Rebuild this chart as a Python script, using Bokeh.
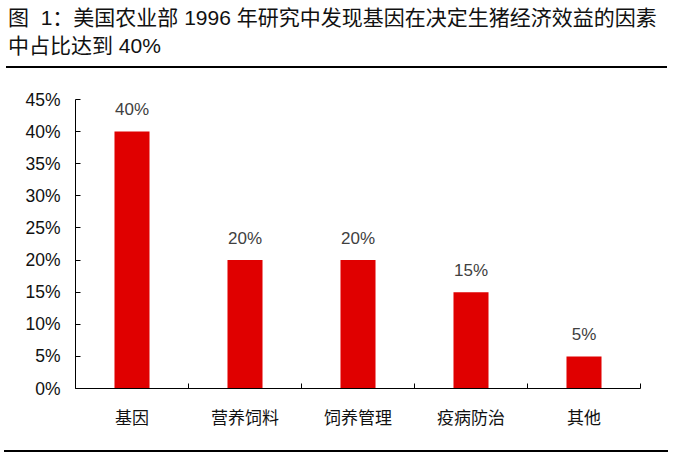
from bokeh.plotting import figure
from bokeh.models import (Range1d, FixedTicker, NumeralTickFormatter, Div, ColumnDataSource)
from bokeh.layouts import column
from bokeh.embed import file_html
from bokeh.resources import INLINE
from bokeh.core.properties import value

title_line1 = "图&nbsp;&nbsp;1：美国农业部 1996 年研究中发现基因在决定生猪经济效益的因素"
title_line2 = "中占比达到 40%"
categories = ["基因", "营养饲料", "饲养管理", "疫病防治", "其他"]
shares = [0.40, 0.20, 0.20, 0.15, 0.05]
y_ticks = [0.0, 0.05, 0.10, 0.15, 0.20, 0.25, 0.30, 0.35, 0.40, 0.45]

FONT = "'Liberation Sans', 'Noto Sans CJK SC', sans-serif"
RED = "#E00000"

xs = [i + 0.5 for i in range(len(categories))]
labels = [f"{v:.0%}" for v in shares]
src = ColumnDataSource(dict(x=xs, top=shares, label=labels))

title_div = Div(
    text=(f"<div style=\"font-family:{FONT};font-size:21px;line-height:28px;"
          f"color:#111;padding-top:4px;padding-left:2px;white-space:nowrap;\">"
          f"{title_line1}<br>{title_line2}</div>"),
    width=661, height=66, margin=(0, 0, 2, 6),
    styles={"border-bottom": "2px solid #000", "box-sizing": "content-box"})

p = figure(width=674, height=377, output_backend="svg", toolbar_location=None,
           x_range=Range1d(0, len(categories)), y_range=Range1d(0, 0.45),
           min_border_left=75, min_border_right=34, min_border_top=29,
           min_border_bottom=59, margin=(0, 0, 0, 0))
p.outline_line_color = None
p.xgrid.grid_line_color = None
p.ygrid.grid_line_color = None
p.background_fill_color = "white"
p.border_fill_color = "white"

p.vbar(x="x", top="top", width=0.31, source=src, fill_color=RED, line_color=None)
p.text(x="x", y="top", text="label", source=src, text_align="center",
       text_baseline="middle", y_offset=-22, text_font=value(FONT),
       text_font_size="17px", text_color="#404040")

xa = p.xaxis[0]
xa.ticker = FixedTicker(ticks=xs, minor_ticks=list(range(len(categories) + 1)))
xa.major_label_overrides = {x: c for x, c in zip(xs, categories)}
xa.major_tick_in = 0
xa.major_tick_out = 0
xa.minor_tick_in = 5
xa.minor_tick_out = 0
xa.minor_tick_line_color = "#000"
xa.axis_line_color = "#000"
xa.major_label_standoff = 20
xa.major_label_text_font = FONT
xa.major_label_text_font_size = "17px"
xa.major_label_text_color = "#111"

ya = p.yaxis[0]
ya.ticker = FixedTicker(ticks=y_ticks, minor_ticks=[])
ya.formatter = NumeralTickFormatter(format="0%")
ya.major_tick_in = 5
ya.major_tick_out = 0
ya.minor_tick_in = 0
ya.minor_tick_out = 0
ya.major_tick_line_color = "#000"
ya.axis_line_color = "#000"
ya.major_label_standoff = 15
ya.major_label_text_font = FONT
ya.major_label_text_font_size = "17.5px"
ya.major_label_text_color = "#111"

bottom_div = Div(text="", width=664, height=2, margin=(3, 0, 0, 4),
                 styles={"border-top": "2px solid #000", "box-sizing": "border-box"})

layout = column(title_div, p, bottom_div, spacing=0, margin=(0, 0, 0, 0))
open("out.html", "w").write(file_html(layout, INLINE))
